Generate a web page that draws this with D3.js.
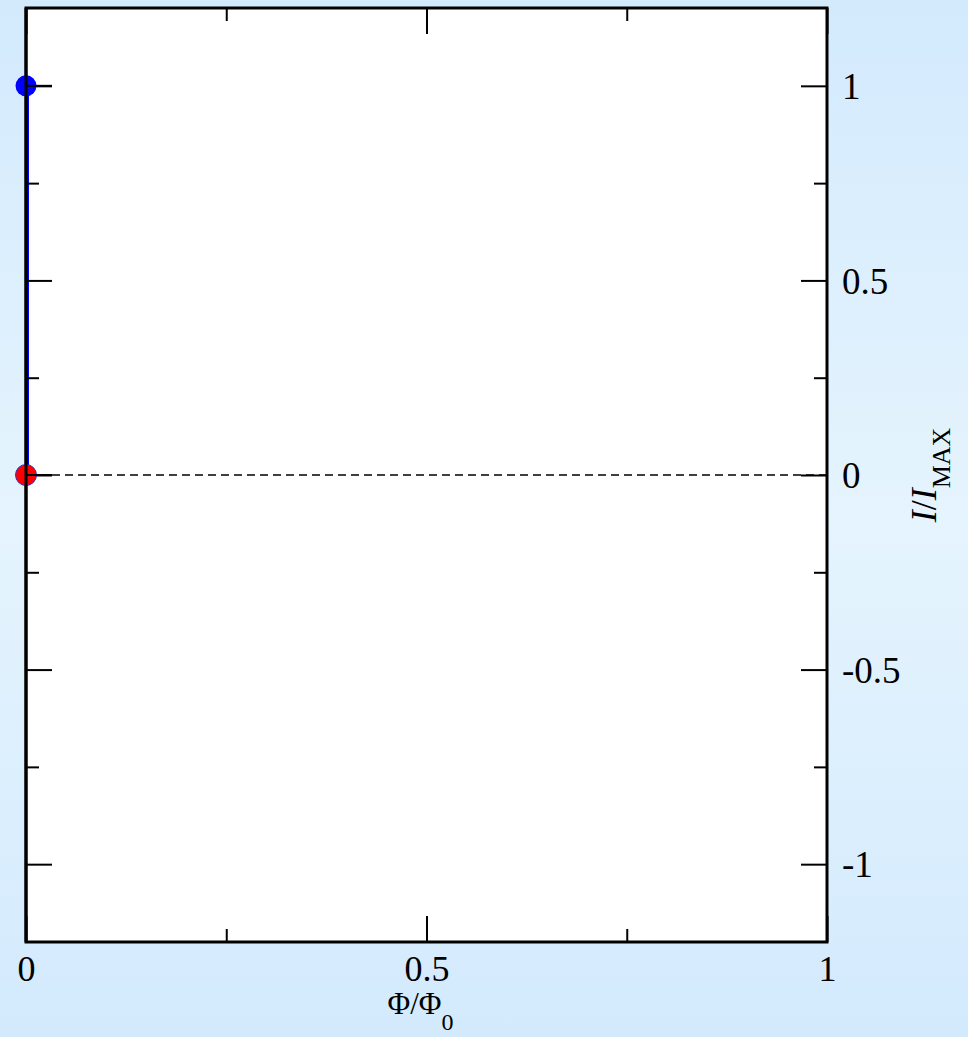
<!DOCTYPE html>
<html>
<head>
<meta charset="utf-8">
<script src="https://cdn.jsdelivr.net/npm/d3@7"></script>
<style>
  html, body { margin: 0; padding: 0; }
  svg { display: block; }
  text { font-family: "Liberation Serif", "Times New Roman", serif; fill: #000; }
</style>
</head>
<body>
<svg id="chart" width="968" height="1037"></svg>
<script>
// Normalised current through the loop vs applied flux
const fluxValues = [0, 0];
const currentValues = [1, 0];
const xDomain = [0, 1];
const yDomain = [-1.2, 1.2];
const xMajorTicks = [0, 0.5, 1];
const xMinorTicks = [0.25, 0.75];
const yMajorTicks = [-1, -0.5, 0, 0.5, 1];
const yMinorTicks = [-0.75, -0.25, 0.25, 0.75];
const xTickLabels = ["0", "0.5", "1"];
const yTickLabels = ["-1", "-0.5", "0", "0.5", "1"];

const svg = d3.select("#chart");
const W = 968, H = 1037;
const plot = { left: 26, right: 827, top: 8, bottom: 942 };

// page background
const defs = svg.append("defs");
const grad = defs.append("linearGradient")
  .attr("id", "bg").attr("x1", 0).attr("y1", 0).attr("x2", 0).attr("y2", 1);
grad.append("stop").attr("offset", "0%").attr("stop-color", "#d3eafd");
grad.append("stop").attr("offset", "50%").attr("stop-color", "#e5f4fd");
grad.append("stop").attr("offset", "100%").attr("stop-color", "#d3eafd");
svg.append("rect").attr("width", W).attr("height", H).attr("fill", "url(#bg)");

defs.append("clipPath").attr("id", "plotClip")
  .append("rect")
  .attr("x", plot.left).attr("y", plot.top)
  .attr("width", plot.right - plot.left).attr("height", plot.bottom - plot.top);

const x = d3.scaleLinear().domain(xDomain).range([plot.left, plot.right]);
const y = d3.scaleLinear().domain(yDomain).range([plot.bottom, plot.top]);

// plot frame fill
svg.append("rect")
  .attr("x", plot.left).attr("y", plot.top)
  .attr("width", plot.right - plot.left).attr("height", plot.bottom - plot.top)
  .attr("fill", "#fff");

// zero reference line
svg.append("line")
  .attr("x1", x(xDomain[0])).attr("x2", x(xDomain[1]))
  .attr("y1", y(0)).attr("y2", y(0))
  .attr("stroke", "#000").attr("stroke-width", 1.5)
  .attr("stroke-dasharray", "8,5");

// current branch
const pts = fluxValues.map((f, i) => [f, currentValues[i]]);
svg.append("path")
  .datum(pts)
  .attr("clip-path", "url(#plotClip)")
  .attr("d", d3.line().x(d => x(d[0])).y(d => y(d[1])))
  .attr("fill", "none").attr("stroke", "#0000ff").attr("stroke-width", 6);

// axes with inward ticks on all four sides
const major = 26, minor = 13;
function addAxis(axisFn, scale, ticks, size, transform, labels) {
  const a = axisFn(scale).tickValues(ticks).tickSizeInner(-size).tickSizeOuter(0)
    .tickFormat(labels ? ((d, i) => labels[i]) : "");
  const g = svg.append("g").attr("transform", transform).call(a);
  g.select(".domain").remove();
  g.selectAll(".tick line").attr("stroke", "#000").attr("stroke-width", 2);
  return g;
}
const bx = addAxis(d3.axisBottom, x, xMajorTicks, major, `translate(0,${plot.bottom})`, xTickLabels);
addAxis(d3.axisBottom, x, xMinorTicks, minor, `translate(0,${plot.bottom})`, null);
addAxis(d3.axisTop, x, xMajorTicks, major, `translate(0,${plot.top})`, null);
addAxis(d3.axisTop, x, xMinorTicks, minor, `translate(0,${plot.top})`, null);
addAxis(d3.axisLeft, y, yMajorTicks, major, `translate(${plot.left},0)`, null);
addAxis(d3.axisLeft, y, yMinorTicks, minor, `translate(${plot.left},0)`, null);
const ry = addAxis(d3.axisRight, y, yMajorTicks, major, `translate(${plot.right},0)`, yTickLabels);
addAxis(d3.axisRight, y, yMinorTicks, minor, `translate(${plot.right},0)`, null);

bx.selectAll(".tick text")
  .attr("y", 13).attr("dy", "0.71em")
  .style("font-family", "Liberation Serif, serif").style("font-size", "36px");
ry.selectAll(".tick text")
  .attr("x", 15).attr("dy", "0.34em")
  .style("font-family", "Liberation Serif, serif").style("font-size", "37px")
  .attr("text-anchor", "start");

// frame
svg.append("rect")
  .attr("x", plot.left).attr("y", plot.top)
  .attr("width", plot.right - plot.left).attr("height", plot.bottom - plot.top)
  .attr("fill", "none").attr("stroke", "#000").attr("stroke-width", 3);

// end points of the branch
svg.append("circle")
  .attr("cx", x(fluxValues[0])).attr("cy", y(currentValues[0])).attr("r", 10.5)
  .attr("fill", "#0000ff");
svg.append("circle")
  .attr("cx", x(fluxValues[1])).attr("cy", y(currentValues[1])).attr("r", 10.5)
  .attr("fill", "#ff0000").attr("stroke", "#3333cc").attr("stroke-width", 1);
// axis lines pass over the markers
svg.append("line")
  .attr("x1", plot.left).attr("x2", plot.left)
  .attr("y1", plot.top).attr("y2", plot.bottom)
  .attr("stroke", "#000").attr("stroke-width", 3);
[currentValues[0], currentValues[1]].forEach(v => {
  svg.append("line")
    .attr("x1", plot.left).attr("x2", plot.left + major)
    .attr("y1", y(v)).attr("y2", y(v))
    .attr("stroke", "#000").attr("stroke-width", 2);
});

// axis titles
const xt = svg.append("text")
  .attr("x", x(0.5) - 6).attr("y", 1014)
  .attr("text-anchor", "middle")
  .style("font-size", "31px");
xt.append("tspan").text("Φ/Φ");
xt.append("tspan").attr("dy", 16).style("font-size", "24px").text("0");

const yt = svg.append("text")
  .attr("transform", `translate(936,${y(0)}) rotate(-90)`)
  .attr("text-anchor", "middle")
  .style("font-size", "36px");
yt.append("tspan").style("font-style", "italic").text("I");
yt.append("tspan").text("/");
yt.append("tspan").style("font-style", "italic").text("I");
yt.append("tspan").attr("dy", 14).style("font-size", "26px").text("MAX");
</script>
</body>
</html>
